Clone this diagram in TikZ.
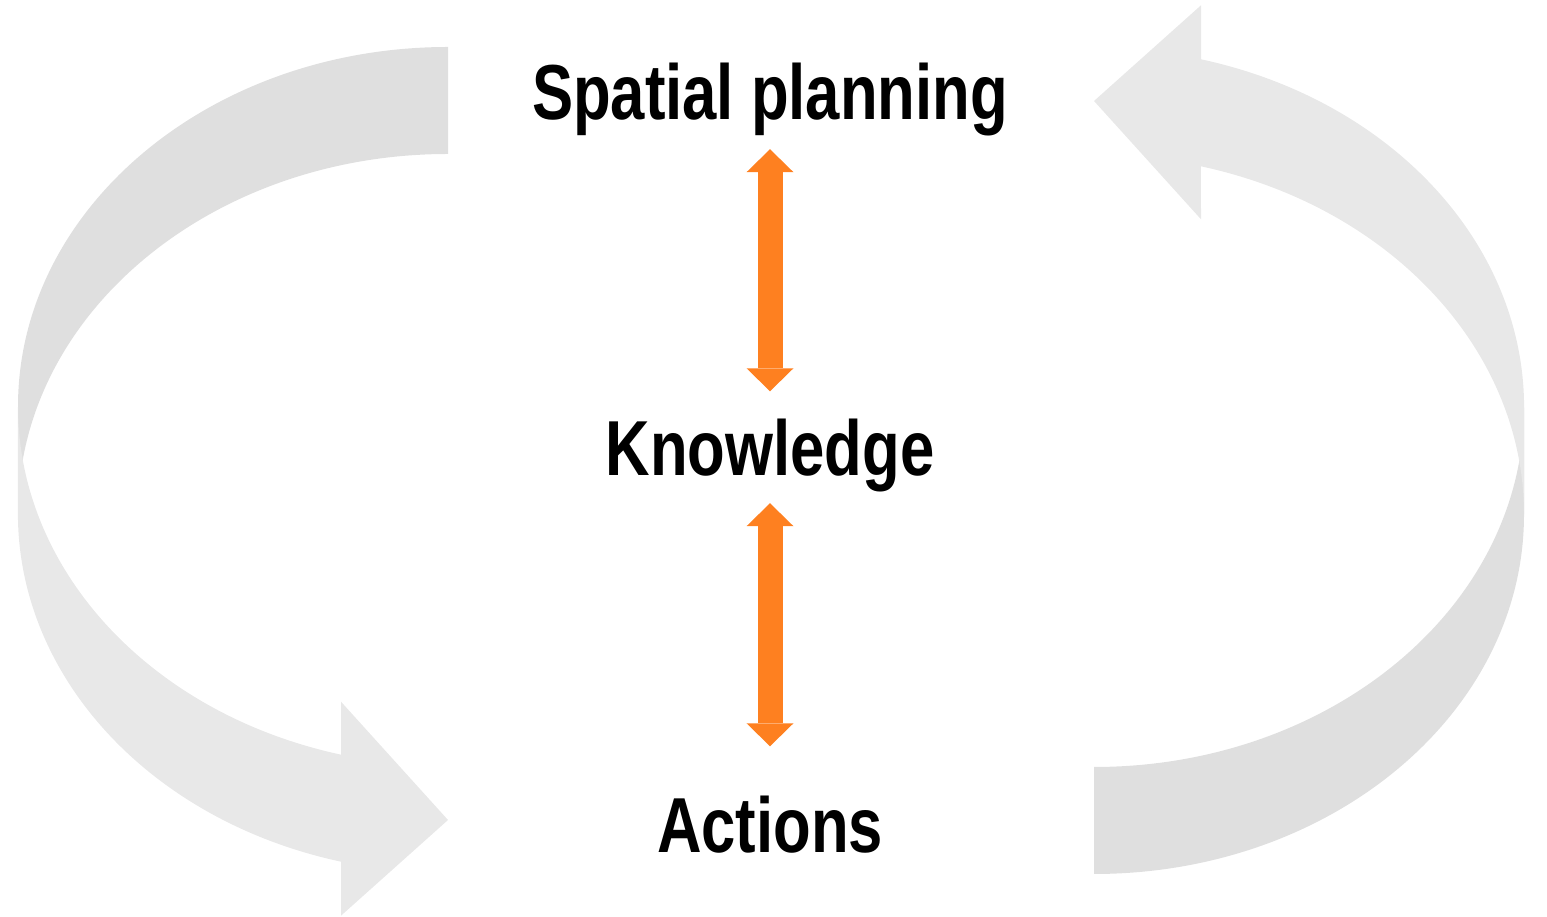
\documentclass[tikz,border=0pt]{standalone}
\usepackage{fontspec}
\newfontfamily\diagfont{Liberation Sans}[FakeStretch=0.79]
\usepackage{tikz}
\usetikzlibrary{arrows.meta}
\definecolor{backgrey}{RGB}{223,223,223}
\definecolor{frontgrey}{RGB}{232,232,232}
\definecolor{linkorange}{RGB}{254,128,32}

\begin{document}
\begin{tikzpicture}[x=1pt, y=1pt,
    lbl/.style={inner sep=0pt, anchor=base, font=\diagfont\bfseries\fontsize{78}{90}\selectfont},
    link/.style={line width=25pt, linkorange,
      {Triangle[width=47pt, length=23pt, line width=0pt]}-{Triangle[width=47pt, length=23pt, line width=0pt]}}]
    \useasboundingbox (0,0) rectangle (1547,917);
    \foreach \r in {0,180} {
      \begin{scope}[rotate around={\r:(771,456.5)}]
        \fill[backgrey] (18,510.5) arc[start angle=180, end angle=90, x radius=430pt, y radius=359.5pt]
          -- (448,763) arc[start angle=90, end angle=180, x radius=430pt, y radius=359.5pt] -- cycle;
        \fill[frontgrey] (18,510.5) arc[start angle=180, end angle=255.6, x radius=430pt, y radius=359.5pt]
          -- (341,215.3) -- (448,97) -- (341,1.3) -- (341,55.3)
          arc[start angle=255.6, end angle=180, x radius=430pt, y radius=359.5pt] -- cycle;
      \end{scope}
    }
    \node[lbl] (plan) at (770,797.5) {Spatial planning};
    \node[lbl] (know) at (770,441) {Knowledge};
    \node[lbl] (act) at (770,64) {Actions};
    \draw[link, shorten <=13pt, shorten >=28pt] (plan.south) -- (know.north);
    \draw[link, shorten <=10.5pt, shorten >=50pt] (know.south) -- (act.north);
  \end{tikzpicture}
\end{document}
